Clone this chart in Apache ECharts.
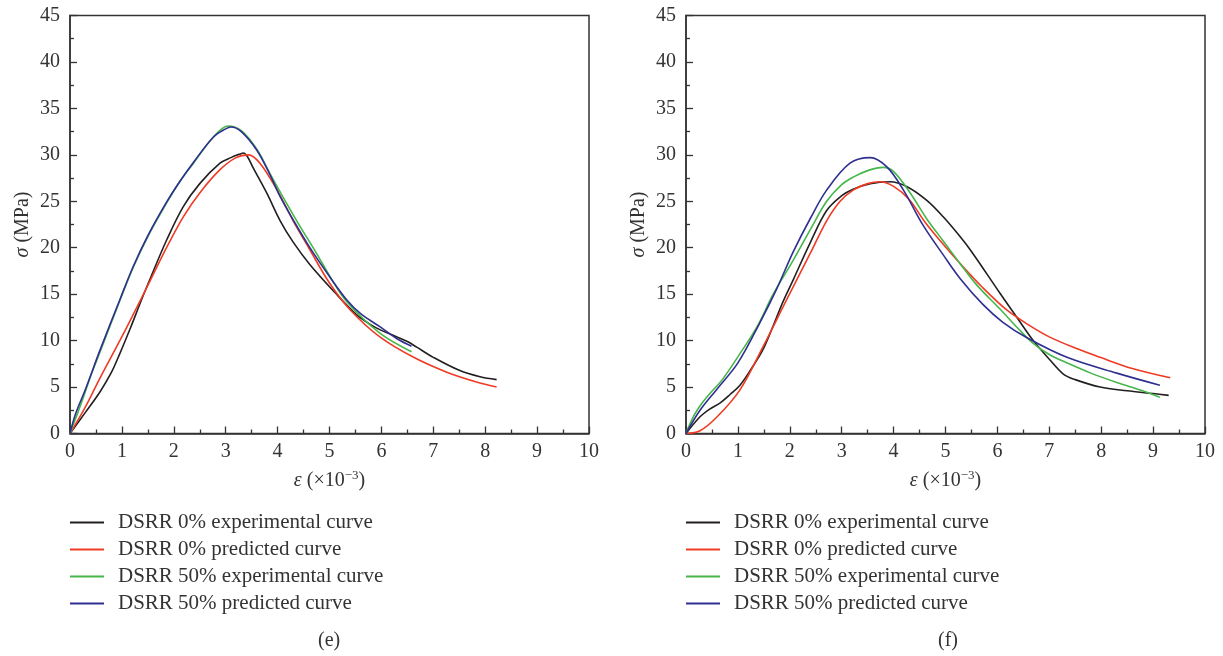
<!DOCTYPE html>
<html>
<head>
<meta charset="utf-8">
<title>DSRR stress-strain curves</title>
<script src="https://cdn.jsdelivr.net/npm/echarts@6/dist/echarts.min.js"></script>
<style>
  html, body { margin: 0; padding: 0; background: #fff; }
  #chart { width: 1223px; height: 656px; }
</style>
</head>
<body>
<div id="chart"></div>
<script>
// Series names shared by both panels
const seriesNames = [
  'DSRR 0% experimental curve',
  'DSRR 0% predicted curve',
  'DSRR 50% experimental curve',
  'DSRR 50% predicted curve'
];
const seriesColors = ['#231f20', '#ef3b24', '#46b64a', '#2e2f90'];

// Panel (e): [strain (×10^-3), stress (MPa)]
const e0Exp = [[0,0],[0.3,2.3],[0.58,4.5],[0.8,6.6],[0.96,8.6],[1.16,11.3],[1.35,14.0],[1.54,16.6],[1.86,20.8],[2.18,24.4],[2.5,26.9],[2.89,29.1],[3.1,29.7],[3.28,30.1],[3.34,30.2],[3.42,29.8],[3.53,28.6],[3.79,25.9],[4.05,22.9],[4.3,20.6],[4.62,18.2],[5.1,15.2],[5.52,12.8],[5.8,11.7],[6.0,11.1],[6.3,10.4],[6.5,9.9],[6.68,9.3],[7.0,8.2],[7.5,6.8],[7.9,6.1],[8.22,5.8]];
const e0Pred = [[0,0],[0.3,2.9],[0.58,6.0],[0.96,10.0],[1.2,12.6],[1.54,16.4],[1.86,20.0],[2.18,23.3],[2.5,25.9],[2.89,28.4],[3.2,29.7],[3.44,30.0],[3.66,29.1],[3.98,26.3],[4.3,22.9],[4.6,20.0],[5.0,16.2],[5.4,13.3],[5.97,10.4],[6.62,8.2],[7.26,6.6],[7.8,5.6],[8.22,5.0]];
const e50Exp = [[0,0],[0.1,1.5],[0.22,3.3],[0.4,6.2],[0.58,8.8],[0.96,14.3],[1.22,17.9],[1.5,21.2],[1.86,24.8],[2.1,27.0],[2.38,29.1],[2.76,31.9],[3.05,33.1],[3.3,32.6],[3.6,30.6],[3.85,28.0],[4.11,25.4],[4.4,22.6],[4.75,19.4],[5.0,17.0],[5.33,14.2],[5.97,10.8],[6.58,8.8]];
const e50Pred = [[0,0],[0.1,2.0],[0.3,4.8],[0.58,9.0],[0.96,14.4],[1.22,18.0],[1.5,21.3],[1.86,24.9],[2.1,27.0],[2.38,29.2],[2.76,31.9],[3.0,32.8],[3.1,33.0],[3.3,32.5],[3.6,30.5],[3.85,27.9],[4.05,25.5],[4.3,23.0],[4.6,20.2],[5.0,16.9],[5.33,14.4],[5.6,12.9],[5.97,11.5],[6.3,10.2],[6.58,9.4]];

// Panel (f): [strain (×10^-3), stress (MPa)]
const f0Exp = [[0,0],[0.27,1.8],[0.45,2.6],[0.66,3.3],[0.85,4.2],[1.04,5.2],[1.25,6.9],[1.48,9.0],[1.68,11.6],[1.87,14.2],[2.07,16.6],[2.39,20.5],[2.71,24.0],[3.0,25.6],[3.22,26.3],[3.55,26.9],[3.93,27.1],[4.25,26.6],[4.64,25.1],[4.96,23.3],[5.28,21.2],[5.5,19.6],[6.05,15.1],[6.4,12.3],[6.69,10.0],[7.0,8.0],[7.27,6.4],[7.5,5.8],[7.98,5.0],[8.5,4.6],[9.0,4.3],[9.3,4.1]];
const f0Pred = [[0,0],[0.27,0.3],[0.6,1.8],[1.04,4.7],[1.48,9.3],[1.93,14.3],[2.43,19.8],[2.71,22.9],[2.97,25.0],[3.22,26.2],[3.5,26.9],[3.74,27.1],[4.0,26.6],[4.3,25.2],[4.6,22.8],[4.89,20.8],[5.28,18.3],[5.7,15.8],[6.18,13.3],[6.6,11.7],[7.0,10.4],[7.5,9.2],[7.98,8.2],[8.6,7.0],[9.33,6.0]];
const f50Exp = [[0,0],[0.14,1.8],[0.3,3.2],[0.46,4.3],[0.7,5.8],[1.04,8.6],[1.37,11.5],[1.68,15.0],[2.07,18.7],[2.4,22.0],[2.71,25.0],[3.0,26.8],[3.22,27.6],[3.5,28.3],[3.8,28.65],[4.0,28.2],[4.32,25.9],[4.64,23.1],[4.96,20.7],[5.28,18.3],[5.6,16.0],[6.05,13.4],[6.4,11.3],[6.69,9.7],[7.0,8.5],[7.34,7.6],[7.8,6.5],[8.3,5.5],[8.8,4.6],[9.13,3.9]];
const f50Pred = [[0,0],[0.27,2.5],[0.6,4.8],[1.0,7.6],[1.43,12.0],[1.75,15.6],[2.07,19.6],[2.4,23.2],[2.71,26.2],[3.16,29.1],[3.55,29.7],[3.87,28.7],[4.19,26.2],[4.57,22.4],[4.96,19.2],[5.28,16.7],[5.72,13.9],[6.1,12.0],[6.57,10.3],[7.34,8.2],[8.3,6.5],[9.13,5.2]];

// Axis ranges and ticks
const strainMin = 0, strainMax = 10, strainStep = 1;
const stressMin = 0, stressMax = 45, stressStep = 5;

const FONT = '"Liberation Serif", "DejaVu Serif", serif';
const INK = '#333';

const chart = echarts.init(document.getElementById('chart'), null, { renderer: 'canvas' });

function xAxis(gridIndex) {
  return {
    gridIndex, type: 'value', min: strainMin, max: strainMax, interval: strainStep,
    name: '{i|ε} (×10{sup|−3})',
    nameLocation: 'middle', nameGap: 36,
    nameTextStyle: {
      fontFamily: FONT, fontSize: 20, color: INK,
      rich: {
        i: { fontFamily: FONT, fontSize: 20, fontStyle: 'italic', color: INK },
        sup: { fontFamily: FONT, fontSize: 13, color: INK, padding: [0, 0, 10, 0] }
      }
    },
    axisLine: { show: true, onZero: false, lineStyle: { color: INK, width: 1.5 } },
    axisTick: { show: true, inside: true, length: 7, lineStyle: { color: INK, width: 1.3 } },
    minorTick: { show: true, splitNumber: 2, length: 4, lineStyle: { color: INK, width: 1.3 } },
    splitLine: { show: false },
    axisLabel: { fontFamily: FONT, fontSize: 20, color: INK, margin: 8 }
  };
}

function yAxis(gridIndex) {
  return {
    gridIndex, type: 'value', min: stressMin, max: stressMax, interval: stressStep,
    name: '{i|σ} (MPa)',
    nameLocation: 'middle', nameRotate: 90, nameGap: 37,
    nameTextStyle: {
      fontFamily: FONT, fontSize: 20, color: INK,
      rich: { i: { fontFamily: FONT, fontSize: 20, fontStyle: 'italic', color: INK } }
    },
    axisLine: { show: true, onZero: false, lineStyle: { color: INK, width: 1.5 } },
    axisTick: { show: true, inside: true, length: 7, lineStyle: { color: INK, width: 1.3 } },
    minorTick: { show: true, splitNumber: 2, length: 4, lineStyle: { color: INK, width: 1.3 } },
    splitLine: { show: false },
    axisLabel: { fontFamily: FONT, fontSize: 20, color: INK, margin: 10 }
  };
}

function curve(name, data, idx, colorIdx) {
  return {
    name, type: 'line', data, xAxisIndex: idx, yAxisIndex: idx,
    symbol: 'none', smooth: 0.35, z: 2 + colorIdx,
    lineStyle: { color: seriesColors[colorIdx], width: 1.6 },
    itemStyle: { color: seriesColors[colorIdx] }
  };
}

function legend(left) {
  return {
    data: seriesNames, orient: 'vertical', left, top: 512, padding: 0,
    icon: 'rect', itemWidth: 34, itemHeight: 2, itemGap: 6,
    selectedMode: false,
    textStyle: { fontFamily: FONT, fontSize: 21, lineHeight: 21, color: INK, padding: [0, 0, 0, 9] }
  };
}

chart.setOption({
  animation: false,
  backgroundColor: '#fff',
  grid: [
    { left: 70, right: 634, top: 15.5, bottom: 222.5, show: true, borderColor: INK, borderWidth: 1.5, backgroundColor: 'transparent' },
    { left: 686, right: 18, top: 15.5, bottom: 222.5, show: true, borderColor: INK, borderWidth: 1.5, backgroundColor: 'transparent' }
  ],
  xAxis: [xAxis(0), xAxis(1)],
  yAxis: [yAxis(0), yAxis(1)],
  legend: [legend(70), legend(686)],
  series: [
    curve(seriesNames[0], e0Exp, 0, 0),
    curve(seriesNames[1], e0Pred, 0, 1),
    curve(seriesNames[2], e50Exp, 0, 2),
    curve(seriesNames[3], e50Pred, 0, 3),
    curve(seriesNames[0], f0Exp, 1, 0),
    curve(seriesNames[1], f0Pred, 1, 1),
    curve(seriesNames[2], f50Exp, 1, 2),
    curve(seriesNames[3], f50Pred, 1, 3)
  ],
  graphic: [
    { type: 'text', left: 318, top: 631, style: { text: '(e)', font: '20px ' + FONT, fill: INK } },
    { type: 'text', left: 938, top: 631, style: { text: '(f)', font: '20px ' + FONT, fill: INK } }
  ]
});
</script>
</body>
</html>
